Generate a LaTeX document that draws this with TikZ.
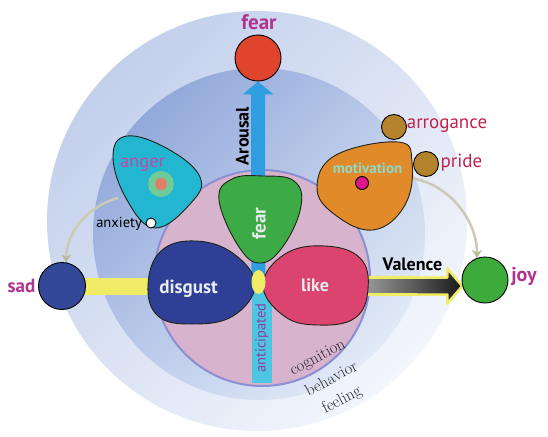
\documentclass[tikz,border=0pt]{standalone}
\usepackage{fontspec}
\setsansfont{PT Sans}
\usetikzlibrary{arrows.meta,calc,shapes.geometric}
\definecolor{feelA}{HTML}{C3D0EC}
\definecolor{feelB}{HTML}{F3F6FC}
\definecolor{behA}{HTML}{93A9DB}
\definecolor{behB}{HTML}{E2EAF7}
\definecolor{cogFill}{HTML}{D8B3CD}
\definecolor{cogLine}{HTML}{8A90D2}
\definecolor{cFear}{HTML}{E0442C}
\definecolor{cSad}{HTML}{34489A}
\definecolor{cJoy}{HTML}{3DAA3C}
\definecolor{cBrown}{HTML}{B5832E}
\definecolor{cAnger}{HTML}{22B6D0}
\definecolor{cMot}{HTML}{E08A2A}
\definecolor{cFearP}{HTML}{3DAB45}
\definecolor{cDisg}{HTML}{2F3F95}
\definecolor{cLike}{HTML}{DC4470}
\definecolor{cYellow}{HTML}{F0EC66}
\definecolor{cCyanBar}{HTML}{4EC5E2}
\definecolor{cArousal}{HTML}{2E9EE0}
\definecolor{tMag}{HTML}{B2338F}
\definecolor{tCrim}{HTML}{C0244E}
\definecolor{tAnger}{HTML}{C447A8}
\definecolor{tMot}{HTML}{8FD9C9}
\definecolor{tAnt}{HTML}{8A3E9E}
\definecolor{tWhite}{HTML}{E8ECEE}
\definecolor{tSerif}{HTML}{2A2A32}
\definecolor{arcGrey}{HTML}{CACAB6}
\definecolor{arcTip}{HTML}{B6BF98}
\definecolor{ringG}{HTML}{6FCB98}
\definecolor{ringR}{HTML}{E27C6C}
\definecolor{dotPink}{HTML}{E0168C}
\definecolor{petalLine}{HTML}{1E2418}
\newcommand\myfs[1]{\fontsize{#1}{#1}\selectfont}
\pgfdeclarelayer{back}
\pgfsetlayers{back,main}
\begin{document}
\begin{tikzpicture}[x=1pt,y=-1pt,
  ball/.style={circle, draw=black, line width=0.9pt, inner sep=0pt, minimum size=#1},
  petal/.style={draw=petalLine, line width=0.9pt},
  lbl/.style={inner sep=0pt},
  sansb/.style={font=\sffamily\bfseries\myfs{#1}},
  sansr/.style={font=\sffamily\myfs{#1}},
  serifl/.style={inner sep=0pt, text=tSerif, rotate=28, font=\rmfamily\myfs{16.5}},
  greyarc/.style={draw=arcGrey, line width=2.5pt, -{Stealth[length=8pt,width=10pt,color=arcTip]}},
  arousal/.style={draw=cArousal, line width=14pt, -{Triangle[length=13pt,width=30pt]}}
]
\useasboundingbox (0,0) rectangle (548,436);

% ---------- circles (nodes) ----------
\node[ball=46pt, fill=cFear] (fearc) at (258,58) {};
\node[ball=47pt, fill=cSad] (sad) at (62,286) {};
\node[ball=46pt, fill=cJoy] (joy) at (485,280) {};
\node[ball=25pt, fill=cBrown] (arrog) at (394,127) {};
\node[ball=25pt, fill=cBrown] (pride) at (426,164) {};
\node[ellipse, fill=cYellow, inner sep=0pt, minimum width=14pt, minimum height=24pt] (blob) at (258.5,282) {};

% dots
\node[circle, fill=ringG, inner sep=0pt, minimum size=26pt] (ring) at (161,184) {};
\node[circle, fill=ringR, inner sep=0pt, minimum size=12pt] (ringc) at (ring.center) {};
\node[ball=13pt, fill=dotPink] (motdot) at (362,183) {};
\node[ball=10pt, fill=white] (anxdot) at (151,223) {};

% ---------- labels ----------
\node[lbl, sansb=21, text=tMag, anchor=base] (tfear) at (259,30) {fear};
\node[lbl, sansb=19, text=tMag, anchor=base] (tsad) at (21.5,292) {sad};
\node[lbl, sansb=20, text=tMag, anchor=base] (tjoy) at (524,281) {joy};
\node[lbl, sansr=19, text=tCrim, anchor=base] (tarrog) at (447,128) {arrogance};
\node[lbl, sansr=19, text=tCrim, anchor=base] (tpride) at (461.5,167) {pride};
\node[lbl, sansr=14.5, text=black, anchor=base east] (tanx) at (142,227) {anxiety};
\node[lbl, sansr=18.5, text=tAnger, anchor=base] (tanger) at (142.5,167) {anger};
\node[lbl, sansb=15, text=tMot, anchor=base] (tmot) at (367.5,173) {motivation};
\node[lbl, sansb=19, text=tWhite, anchor=base] (tdisg) at (188.5,293) {disgust};
\node[lbl, sansb=18, text=tWhite, anchor=base] (tlike) at (315,291) {like};
\node[lbl, sansb=19, text=tWhite, rotate=90] (tfearp) at (259,223.5) {fear};
\node[lbl, sansb=18, text=black, anchor=base] (tval) at (412.5,270) {Valence};
\node[lbl, sansb=18, text=black, rotate=90] (taro) at (242.5,136) {Arousal};
\node[lbl, sansr=14.5, text=tAnt, rotate=90] (tant) at (262,338) {anticipated};
\node[serifl] (tcog) at (318,358) {cognition};
\node[serifl] (tbeh) at (331,378) {behavior};
\node[serifl] (tfeel) at (342,400) {feeling};

\coordinate (likeR) at (356,286);
\coordinate (disgC) at (200,286);
\coordinate (angerL) at (118,198);
\coordinate (motR) at (411,178);
\coordinate (vtip) at (joy.195);

\begin{pgfonlayer}{back}
\fill[white] (0,0) rectangle (548,436);
% backdrop circles
\shade[top color=feelA, bottom color=feelB, shading angle=45] (257,221) circle (210);
\shade[top color=behA, bottom color=behB, shading angle=45] (259,234) circle (166);
% grey arcs
\draw[greyarc] (angerL) .. controls +(-30,8) and +(0,-30) .. (sad.80);
\draw[greyarc] (motR) .. controls +(38,6) and +(0,-38) .. (joy.110);
% cognition circle
\draw[fill=cogFill, draw=cogLine, line width=2pt] (262,278) circle (108);
% yellow bar sad -> disgust
\draw[cYellow, line width=17pt] (sad.center) -- (disgC);
% arousal arrow
\draw[arousal] (blob.center) -- (fearc.south);
% anticipated bar
\fill[cCyanBar] ($(blob.center)+(-6.5,8)$) rectangle ($(blob.center)+(13,101)$);
% valence arrow
\path[draw=cYellow, line width=2.6pt, line join=round, left color=black!35, right color=black!90]
  ($(likeR)+(0,-8.5)$) -- ($(vtip)+(-15,-8.5)$) -- ($(vtip)+(-15,-17.5)$) -- (vtip)
  -- ($(vtip)+(-15,17.5)$) -- ($(vtip)+(-15,8.5)$) -- ($(likeR)+(0,8.5)$) -- cycle;
% petals
\draw[petal, fill=cAnger] plot[smooth cycle, tension=0.7] coordinates {(113,157) (127,136) (168,149) (200,177) (191,203) (155,228) (127,200)};
\draw[petal, fill=cMot] plot[smooth cycle, tension=0.7] coordinates {(317,187) (336,155) (398,142) (412,162) (405,205) (373,230) (334,214)};
\draw[petal, fill=cFearP] plot[smooth cycle, tension=0.7] coordinates {(219,200) (232,179) (263,176) (294,181) (301,206) (284,245) (261,263) (239,247)};
\draw[petal, fill=cDisg] plot[smooth cycle, tension=0.7] coordinates {(148,285) (161,251) (196,241) (234,254) (255,285) (233,316) (192,324) (158,316)};
\draw[petal, fill=cLike] plot[smooth cycle, tension=0.7] coordinates {(263,285) (285,254) (325,246) (360,258) (368,289) (355,318) (318,325) (284,316)};
\end{pgfonlayer}
\end{tikzpicture}
\end{document}
